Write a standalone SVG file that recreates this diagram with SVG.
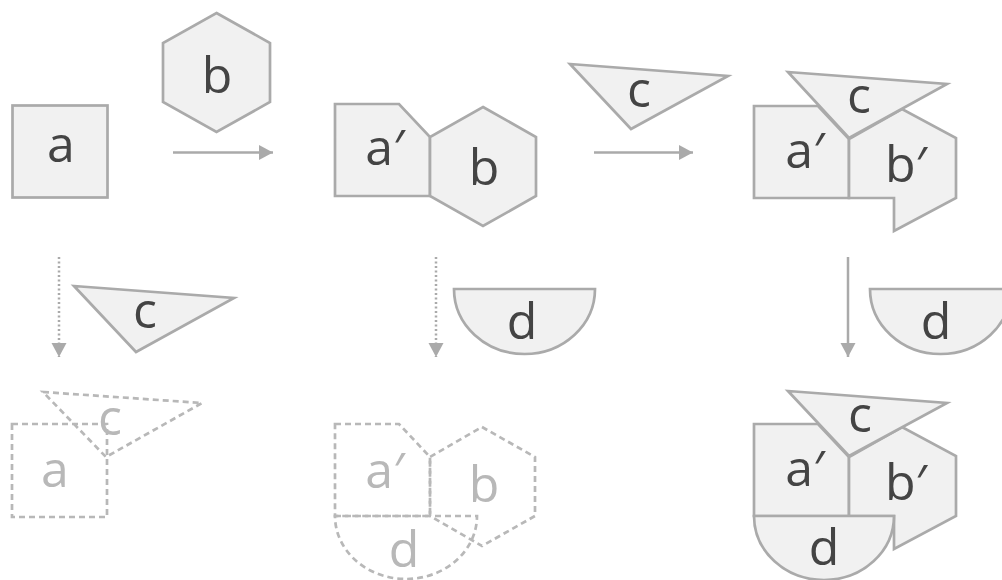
<svg xmlns="http://www.w3.org/2000/svg" width="1002" height="580" viewBox="0 0 1002 580">
  <style>
    .shape { fill: #f1f1f1; stroke: #aaaaaa; stroke-width: 2.7; stroke-linejoin: miter; }
    .ghost { fill: none; stroke: #b8b8b8; stroke-width: 2.7; stroke-dasharray: 6 4; }
    .lbl { font-family: "Open Sans", "DejaVu Sans", sans-serif; font-size: 50px; fill: #444444; text-anchor: middle; }
    .glbl { font-family: "Open Sans", "DejaVu Sans", sans-serif; font-size: 50px; fill: #b8b8b8; text-anchor: middle; }
    .arrow { stroke: #aaaaaa; stroke-width: 2.5; fill: none; marker-end: url(#head); }
    .dotted { stroke-dasharray: 2 2.5; }
  </style>
  <defs>
    <marker id="head" markerUnits="userSpaceOnUse" markerWidth="16" markerHeight="16" refX="14" refY="7.5" orient="auto">
      <path d="M0,0 L14,7.5 L0,15 Z" fill="#aaaaaa"/>
    </marker>
  </defs>

  <!-- connectors -->
  <g id="connectors">
    <line class="arrow" x1="173" y1="152.5" x2="273" y2="152.5"/>
    <line class="arrow" x1="594" y1="152.5" x2="693" y2="152.5"/>
    <line class="arrow dotted" x1="59" y1="257" x2="59" y2="357"/>
    <line class="arrow dotted" x1="436" y1="257" x2="436" y2="357"/>
    <line class="arrow" x1="848" y1="257" x2="848" y2="357"/>
  </g>

  <!-- square a -->
  <g id="node-a">
    <rect class="shape" x="12.5" y="105.5" width="95" height="92"/>
    <text class="lbl" x="61" y="162">a</text>
  </g>

  <!-- hexagon b -->
  <g id="node-b">
    <polygon class="shape" points="216.5,13 270,43 270,102 216.5,132 163,102 163,43"/>
    <text class="lbl" x="217" y="93">b</text>
  </g>

  <!-- a' joined with b -->
  <g id="node-ab">
    <polygon class="shape" points="335,104 399,104 430,137 430,196 335,196"/>
    <polygon class="shape" points="483,107 536,137 536,196 483,226 430,196 430,137"/>
    <text class="lbl" x="385" y="165">a′</text>
    <text class="lbl" x="484" y="185">b</text>
  </g>

  <!-- triangle c -->
  <g id="node-c">
    <polygon class="shape" points="570,64 728,76 631,129"/>
    <text class="lbl" x="639" y="107">c</text>
  </g>

  <!-- a', b' and c -->
  <g id="node-abc">
    <polygon class="shape" points="754,106 818,106 849,139 849,198 754,198"/>
    <polygon class="shape" points="849,139 902,109 956,138 956,198 894,231 894,198 849,198"/>
    <polygon class="shape" points="788,72 947,84 849,138"/>
    <text class="lbl" x="805" y="168">a′</text>
    <text class="lbl" x="906" y="182">b′</text>
    <text class="lbl" x="859" y="113">c</text>
  </g>

  <!-- triangle c beside the first downward arrow -->
  <g id="node-c2">
    <polygon class="shape" points="74,286 234,298 136,352"/>
    <text class="lbl" x="145" y="328">c</text>
  </g>

  <!-- half disc d -->
  <g id="node-d">
    <path class="shape" d="M454,289 H595 A70.5,65 0 0 1 454,289 Z"/>
    <text class="lbl" x="522" y="339">d</text>
  </g>

  <g id="node-d2">
    <path class="shape" d="M870,289 H1011 A70.5,65 0 0 1 870,289 Z"/>
    <text class="lbl" x="936" y="339">d</text>
  </g>

  <!-- dashed outline: a with c -->
  <g id="node-ac-ghost">
    <rect class="ghost" x="12" y="424" width="95" height="93"/>
    <polygon class="ghost" points="43,392 202,403 106,457"/>
    <text class="glbl" x="55" y="487">a</text>
    <text class="glbl" x="110" y="435">c</text>
  </g>

  <!-- dashed outline: a', b with d -->
  <g id="node-abd-ghost">
    <polygon class="ghost" points="335,424 399,424 430,457 430,516 335,516"/>
    <polygon class="ghost" points="482,427 535,457 535,516 482,546 430,516 430,457"/>
    <path class="ghost" d="M335,516 H477 A71,63 0 0 1 335,516 Z"/>
    <text class="glbl" x="385" y="488">a′</text>
    <text class="glbl" x="484" y="502">b</text>
    <text class="glbl" x="404" y="567">d</text>
  </g>

  <!-- final assembly: a', b', c and d -->
  <g id="node-abcd" transform="translate(0,318)">
    <polygon class="shape" points="754,106 818,106 849,139 849,198 754,198"/>
    <polygon class="shape" points="849,139 902,109 956,138 956,198 894,231 894,198 849,198"/>
    <polygon class="shape" points="788,73 947,85 849,138"/>
    <path class="shape" d="M754,198 H894 A70,64 0 0 1 754,198 Z"/>
    <text class="lbl" x="805" y="168">a′</text>
    <text class="lbl" x="906" y="182">b′</text>
    <text class="lbl" x="860" y="114">c</text>
    <text class="lbl" x="824" y="247">d</text>
  </g>
</svg>
